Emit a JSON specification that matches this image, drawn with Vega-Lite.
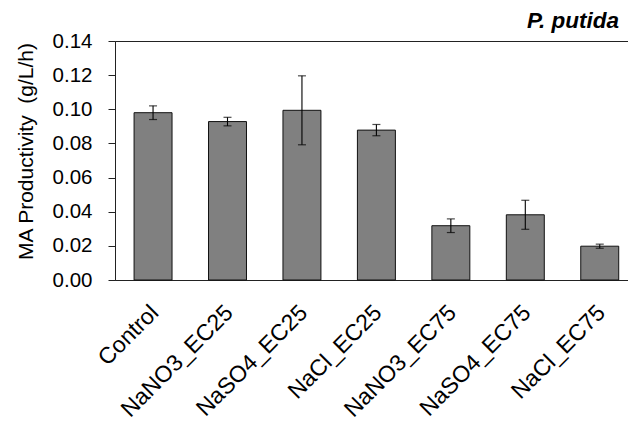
{
  "$schema": "https://vega.github.io/schema/vega-lite/v6.json",
  "autosize": "none",
  "padding": {"left": 115, "top": 41, "right": 0, "bottom": 145},
  "width": 514,
  "height": 239,
  "background": "white",
  "config": {
    "font": "Liberation Sans",
    "view": {"stroke": "#222", "strokeWidth": 1}
  },
  "title": {
    "text": "P. putida",
    "anchor": "end",
    "frame": "group",
    "fontStyle": "italic",
    "fontWeight": "bold",
    "fontSize": 22.5,
    "font": "Liberation Sans",
    "color": "#000",
    "dx": -10,
    "offset": -1
  },
  "data": {
    "values": [
      {"group": "Control", "mean": 0.098, "err": 0.004},
      {"group": "NaNO3_EC25", "mean": 0.0928, "err": 0.0025},
      {"group": "NaSO4_EC25", "mean": 0.0994, "err": 0.0202},
      {"group": "NaCl_EC25", "mean": 0.0878, "err": 0.0033},
      {"group": "NaNO3_EC75", "mean": 0.0318, "err": 0.0040},
      {"group": "NaSO4_EC75", "mean": 0.0382, "err": 0.0085},
      {"group": "NaCl_EC75", "mean": 0.0198, "err": 0.0012}
    ]
  },
  "encoding": {
    "x": {
      "field": "group",
      "type": "nominal",
      "sort": null,
      "scale": {"paddingInner": 0.49, "paddingOuter": 0.197, "align": 0.65},
      "axis": {
        "title": null,
        "labelAngle": -45,
        "labelFontSize": 23,
        "labelColor": "#000",
        "labelPadding": 21,
        "labelOffset": -6,
        "ticks": false,
        "domainColor": "#222",
        "domainWidth": 1.2
      }
    },
    "y": {
      "field": "mean",
      "type": "quantitative",
      "scale": {"domain": [0, 0.14], "nice": false},
      "axis": {
        "title": "MA Productivity\u00a0 (g/L/h)",
        "titleFontSize": 21,
        "titleFontWeight": "normal",
        "titleColor": "#000",
        "titlePadding": 16,
        "titleY": 110,
        "labelFontSize": 20.5,
        "labelColor": "#000",
        "labelPadding": 16,
        "values": [0, 0.02, 0.04, 0.06, 0.08, 0.1, 0.12, 0.14],
        "format": ".2f",
        "grid": false,
        "tickSize": 7,
        "tickColor": "#222",
        "domainColor": "#222",
        "labelFlush": false
      }
    }
  },
  "layer": [
    {
      "mark": {"type": "bar", "fill": "#808080", "stroke": "#111", "strokeWidth": 1}
    },
    {
      "mark": {"type": "errorbar", "color": "#000", "ticks": {"size": 8, "thickness": 1.2, "color": "#000"}, "rule": {"strokeWidth": 1.1, "color": "#000"}},
      "encoding": {
        "y": {"field": "mean", "type": "quantitative", "title": "MA Productivity\u00a0 (g/L/h)"},
        "yError": {"field": "err"}
      }
    }
  ]
}
